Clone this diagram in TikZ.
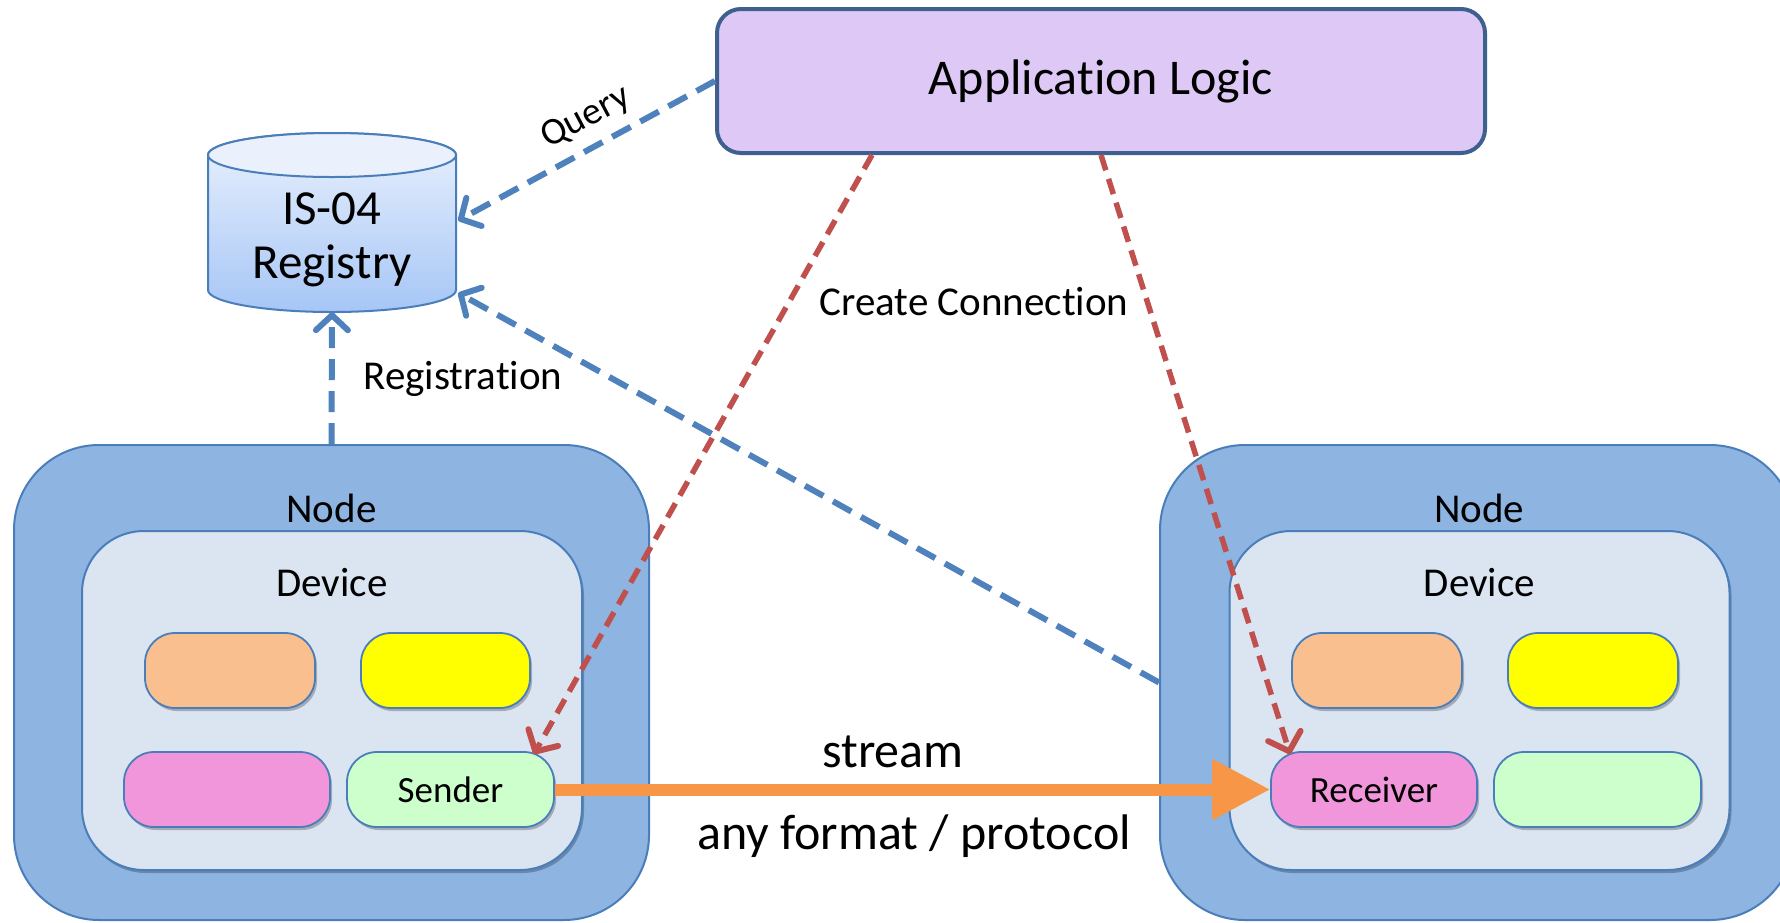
\documentclass[tikz,border=0pt]{standalone}
\usepackage{fontspec}
\setmainfont[Ligatures=NoCommon]{Carlito}
\usetikzlibrary{arrows.meta,calc,shadows}
\definecolor{appfill}{RGB}{222,200,245}
\definecolor{appborder}{RGB}{62,96,142}
\definecolor{nodefill}{RGB}{142,180,226}
\definecolor{nodeborder}{RGB}{74,126,187}
\definecolor{devfill}{RGB}{219,229,241}
\definecolor{orangebox}{RGB}{249,191,143}
\definecolor{yellowbox}{RGB}{255,255,0}
\definecolor{pinkbox}{RGB}{242,150,220}
\definecolor{greenbox}{RGB}{204,255,204}
\definecolor{bluedashc}{RGB}{79,129,189}
\definecolor{reddashc}{RGB}{192,80,77}
\definecolor{streamc}{RGB}{247,150,70}
\definecolor{cyltop}{RGB}{234,241,253}
\definecolor{cylbot}{RGB}{166,198,246}
\tikzset{
  outerbox/.style={draw=nodeborder, line width=2pt, fill=nodefill, rounded corners=85pt,
    minimum width=635pt, minimum height=475pt, inner sep=0pt},
  devbox/.style={draw=nodeborder, line width=2pt, fill=devfill, rounded corners=62pt,
    minimum width=500pt, minimum height=339pt, inner sep=0pt,
    drop shadow={shadow xshift=2pt, shadow yshift=-3pt, opacity=0.25, fill=black}},
  smallbox/.style={draw=nodeborder, line width=1.8pt, rounded corners=30pt,
    minimum height=75pt, inner sep=0pt, font=\fontsize{37}{44}\selectfont,
    drop shadow={shadow xshift=2pt, shadow yshift=-3pt, opacity=0.25, fill=black}},
  lbl/.style={font=\fontsize{41}{49}\selectfont, inner sep=0pt},
  biglbl/.style={font=\fontsize{50}{60}\selectfont, inner sep=0pt},
  bluedash/.style={draw=bluedashc, line width=6pt, dash pattern=on 21pt off 11pt,
    -{Straight Barb[length=15pt,width=32pt,line width=6pt,round]}},
  reddash/.style={draw=reddashc, line width=5.5pt, dash pattern=on 16pt off 9pt,
    -{Straight Barb[length=16pt,width=34pt,line width=6pt,round]}},
}
\begin{document}
\begin{tikzpicture}[x=1pt,y=-1pt]
\clip (0,0) rectangle (1780,922);
\useasboundingbox (0,0) rectangle (1780,922);
\fill[white] (0,0) rectangle (1780,922);

% Nodes and devices
\node[outerbox] (node1) at (331.5,682.5) {};
\node[outerbox] (node2) at (1477.5,682.5) {};
\node[lbl] (node1lbl) at (331.5,508) {Node};
\node[lbl] (node2lbl) at (1479,508) {Node};
\node[devbox] (dev1) at (332,700.5) {};
\node[devbox] (dev2) at (1479.5,700.5) {};
\node[lbl] (dev1lbl) at (332,583) {Device};
\node[lbl] (dev2lbl) at (1479.5,583) {Device};

% left device contents
\node[smallbox, fill=orangebox, minimum width=170pt] (lorange) at (230,670.5) {};
\node[smallbox, fill=yellowbox, minimum width=169pt] (lyellow) at (445.5,670.5) {};
\node[smallbox, fill=pinkbox, minimum width=206pt] (lpink) at (227,789.5) {};
\node[smallbox, fill=greenbox, minimum width=207pt] (sender) at (450.5,789.5) {Sender};

% right device contents
\node[smallbox, fill=orangebox, minimum width=170pt] (rorange) at (1377,670.5) {};
\node[smallbox, fill=yellowbox, minimum width=170pt] (ryellow) at (1593,670.5) {};
\node[smallbox, fill=pinkbox, minimum width=206pt] (receiver) at (1374,789.5) {Receiver};
\node[smallbox, fill=greenbox, minimum width=207pt] (rgreen) at (1597.5,789.5) {};

% Application logic
\node[draw=appborder, line width=4pt, fill=appfill, rounded corners=24pt,
  minimum width=768pt, minimum height=144pt, biglbl] (app) at (1101,81) {Application Logic};

% Registry cylinder
\shade[top color=cyltop, bottom color=cylbot, draw=nodeborder, line width=2pt]
  (208,155) -- (208,290) arc[start angle=180, end angle=360, x radius=124pt, y radius=22pt]
  -- (456,155) arc[start angle=0, end angle=180, x radius=124pt, y radius=22pt] -- cycle;
\draw[draw=nodeborder, line width=2pt, fill=cyltop] (332,155) ellipse[x radius=124pt, y radius=22pt];
\node[minimum width=248pt, minimum height=179pt, inner sep=0pt] (reg) at (332,222.5) {};
\node[font=\fontsize{49}{57}\selectfont, inner sep=0pt] (regl1) at (332,209) {IS-04};
\node[font=\fontsize{49}{57}\selectfont, inner sep=0pt] (regl2) at (332,266) {Registry};

% Connectors
\draw[bluedash] (app.west) -- ($(reg.east)+(2,-2)$);
\draw[bluedash] (node1.north) -- (reg.south);
\draw[bluedash] (node2.west) -- ($(reg.east)+(2,70.5)$);
\draw[reddash] ($(app.south)+(-229,0)$) -- ($(sender.north east)+(-21,3)$);
\draw[reddash] (app.south) -- ($(receiver.north west)+(20,3)$);
\draw[draw=streamc, line width=12pt, -{Triangle[length=58pt,width=58pt]}] (sender.east) -- (receiver.west);

% Labels
\node[lbl, font=\fontsize{38}{46}\selectfont, rotate=28] (qlbl) at (586,118) {Query};
\node[lbl] (reglbl) at (463,379) {Registration};
\node[lbl] (cclbl) at (974,302) {Create Connection};
\node[biglbl] (strlbl) at (893,752) {stream};
\node[biglbl] (fmtlbl) at (914,836) {any format / protocol};
\end{tikzpicture}
\end{document}
